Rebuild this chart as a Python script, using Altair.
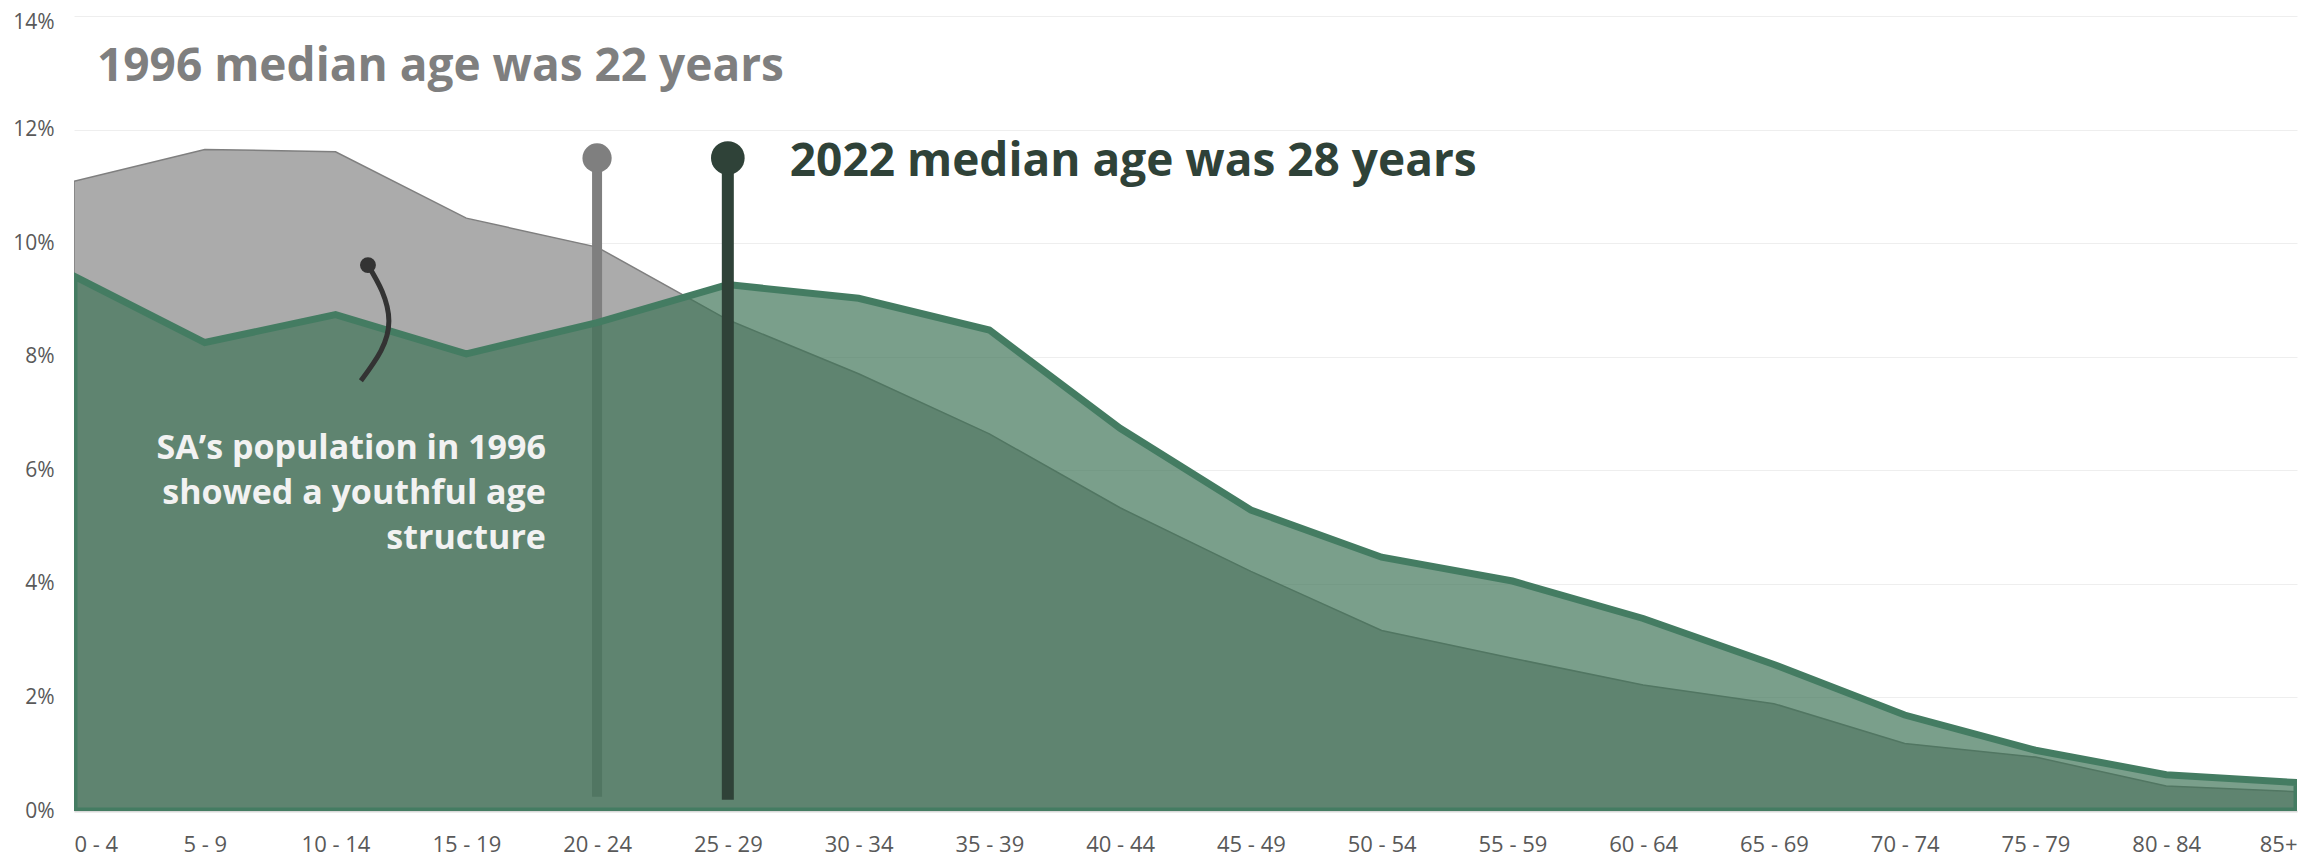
import json
import altair as alt
import pandas as pd

# ---- data ----
ages = ["0 - 4", "5 - 9", "10 - 14", "15 - 19", "20 - 24", "25 - 29", "30 - 34",
        "35 - 39", "40 - 44", "45 - 49", "50 - 54", "55 - 59", "60 - 64",
        "65 - 69", "70 - 74", "75 - 79", "80 - 84", "85+"]
pct_1996 = [11.09, 11.65, 11.61, 10.44, 9.93, 8.65, 7.70, 6.64, 5.34, 4.22,
            3.18, 2.69, 2.22, 1.89, 1.19, 0.95, 0.44, 0.34]
pct_2022 = [9.42, 8.25, 8.74, 8.05, 8.60, 9.27, 9.03, 8.47, 6.74, 5.30,
            4.47, 4.05, 3.39, 2.58, 1.69, 1.07, 0.64, 0.50]
y_ticks = [0, 2, 4, 6, 8, 10, 12, 14]

median_group_1996 = "20 - 24"   # median age 22
median_group_2022 = "25 - 29"   # median age 28
median_top = 11.5
median_bottom = [0.25, 0.2]

title_1996 = "1996 median age was 22 years"
title_2022 = "2022 median age was 28 years"
note_lines = ["SA\u2019s population in 1996", "showed a youthful age", "structure"]

# annotation placement (data units: x = age-group index, y = percent)
title_1996_pos = (0.176, 12.85)
title_2022_pos = (5.474, 11.18)
note_x = 3.609
note_y = [6.204, 5.413, 4.622]
arrow_x = [2.248, 2.355, 2.408, 2.347, 2.194]
arrow_y = [9.613, 9.156, 8.629, 8.102, 7.575]

FONT = "Open Sans"

df = pd.DataFrame({"idx": list(range(len(ages))), "age": ages,
                   "p1996": pct_1996, "p2022": pct_2022})

xscale = alt.Scale(domain=[0, len(ages) - 1], nice=False, zero=False)
yscale = alt.Scale(domain=[0, 14], nice=False)

x_axis = alt.Axis(values=list(range(len(ages))),
                  labelExpr=f"{json.dumps(ages)}[datum.value]",
                  title=None, grid=False, ticks=False,
                  domainColor="#d9d9d9", domainWidth=2,
                  labelFont=FONT, labelFontSize=22, labelColor="#595959",
                  labelPadding=23)
y_axis = alt.Axis(values=y_ticks, labelExpr="datum.value + '%'",
                  title=None, grid=True, gridColor="#eeeeee", gridWidth=1,
                  domain=False, ticks=False,
                  labelFont=FONT, labelFontSize=21, labelColor="#595959",
                  labelPadding=20,
                  labelOffset={"condition": {"test": f"datum.value == {max(y_ticks)}",
                                             "value": 6},
                               "value": 0})


def xq(field="x"):
    return alt.X(f"{field}:Q", scale=xscale, axis=x_axis)


def yq(field):
    return alt.Y(f"{field}:Q", scale=yscale, axis=y_axis)


area_1996 = alt.Chart(df).mark_area(
    fill="#ababab", stroke="#7f7f7f", strokeWidth=1.5, clip=True
).encode(x=xq("idx"), y=yq("p1996"))

med = pd.DataFrame({
    "x": [ages.index(median_group_1996), ages.index(median_group_2022)],
    "top": [median_top, median_top],
    "bottom": median_bottom,
    "which": ["1996", "2022"],
})

stem_1996 = alt.Chart(med[med.which == "1996"]).mark_rule(
    color="#7f7f7f", strokeWidth=10
).encode(x=xq(), y=yq("bottom"), y2="top:Q")
dot_1996 = alt.Chart(med[med.which == "1996"]).mark_circle(
    color="#7f7f7f", size=855, opacity=1
).encode(x=xq(), y=yq("top"))

area_2022 = alt.Chart(df).mark_area(
    fill="#3b7254", fillOpacity=0.68, stroke="#447c62", strokeWidth=7,
    strokeJoin="miter", clip=True
).encode(x=xq("idx"), y=yq("p2022"))

stem_2022 = alt.Chart(med[med.which == "2022"]).mark_rule(
    color="#2f4238", strokeWidth=12
).encode(x=xq(), y=yq("bottom"), y2="top:Q")
dot_2022 = alt.Chart(med[med.which == "2022"]).mark_circle(
    color="#2f4238", size=1134, opacity=1
).encode(x=xq(), y=yq("top"))

titles = pd.DataFrame({
    "x": [title_1996_pos[0], title_2022_pos[0]],
    "y": [title_1996_pos[1], title_2022_pos[1]],
    "t": [title_1996, title_2022],
    "c": ["#7f7f7f", "#2f4238"],
})
title_text = alt.Chart(titles).mark_text(
    font=FONT, fontSize=46, fontWeight="bold", align="left",
    baseline="alphabetic"
).encode(x=xq(), y=yq("y"), text="t:N",
         color=alt.Color("c:N", scale=None))

note = pd.DataFrame({"x": [note_x] * len(note_lines), "y": note_y,
                     "t": note_lines})
note_text = alt.Chart(note).mark_text(
    font=FONT, fontSize=34, fontWeight="bold", align="right",
    baseline="alphabetic", color="#f2f2f2"
).encode(x=xq(), y=yq("y"), text="t:N")

arrow = pd.DataFrame({"x": arrow_x, "y": arrow_y,
                      "seq": list(range(len(arrow_x)))})
arrow_line = alt.Chart(arrow).mark_line(
    interpolate="natural", strokeWidth=5, color="#333333", strokeCap="butt"
).encode(x=xq(), y=yq("y"), order="seq:Q")
arrow_dot = alt.Chart(arrow[arrow.seq == 0]).mark_circle(
    color="#333333", size=254, opacity=1
).encode(x=xq(), y=yq("y"))

chart = alt.layer(
    area_1996, stem_1996, dot_1996, area_2022, stem_2022, dot_2022,
    arrow_line, arrow_dot, title_text, note_text
).properties(
    width=2223, height=795,
    autosize=alt.AutoSizeParams(type="none"),
    padding={"left": 66, "top": 8, "right": 10, "bottom": 51},
    background="white",
).configure_view(stroke=None)

chart.save("out.html", embed_options={"renderer": "svg", "actions": False})
